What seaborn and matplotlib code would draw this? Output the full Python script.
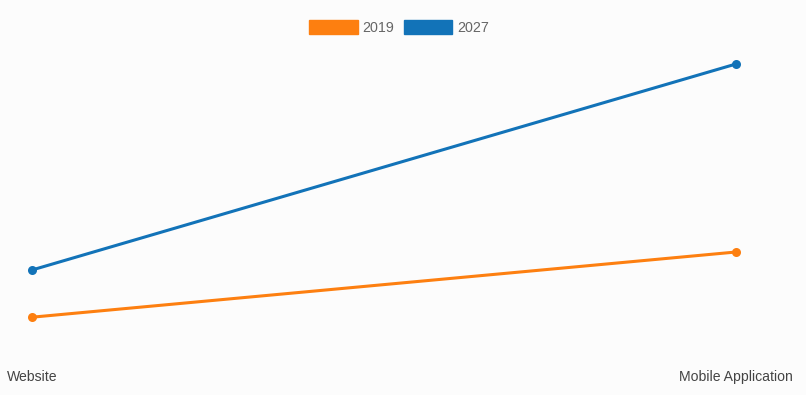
import matplotlib
matplotlib.use("Agg")
import matplotlib.pyplot as plt
import seaborn as sns
import pandas as pd
from matplotlib.patches import Patch

categories = ["Website", "Mobile Application"]
years = ["2019", "2027"]
values_2019 = [10.7, 27.0]
values_2027 = [22.5, 74.0]
colors = {"2019": "#fd7f10", "2027": "#1273b8"}

df = pd.DataFrame({
    "channel": categories * 2,
    "year": [years[0]] * 2 + [years[1]] * 2,
    "value": values_2019 + values_2027,
})

sns.set_theme(style="white")
plt.rcParams["font.family"] = ["Liberation Sans", "DejaVu Sans"]

W, H = 806, 395
fig = plt.figure(figsize=(W / 100, H / 100), dpi=100)
fig.patch.set_facecolor("#fcfcfc")
ax = fig.add_axes([32 / W, (H - 360) / H, (736 - 32) / W, (360 - 40) / H])
ax.set_facecolor("#fcfcfc")

sns.lineplot(data=df, x="channel", y="value", hue="year", palette=colors,
             marker="o", markersize=6.5, markeredgewidth=0, linewidth=2.2,
             ax=ax, legend=False, sort=False)

ax.set_xlim(0, 1)
ax.set_ylim(0, 80)
ax.set_yticks([])
ax.set_xlabel("")
ax.set_ylabel("")
for s in ax.spines.values():
    s.set_visible(False)
ax.tick_params(axis="x", length=0, pad=7.5, labelsize=10.1, labelcolor="#444444")
for p in ax.collections + ax.lines:
    p.set_clip_on(False)

handles = [Patch(facecolor=colors[y], edgecolor=colors[y], label=y) for y in years]
leg = fig.legend(handles=handles, loc="upper center", bbox_to_anchor=(399 / W, 1 - 7 / H),
                 ncol=2, frameon=False, fontsize=10.3, handlelength=3.4, handleheight=1.15,
                 handletextpad=0.35, columnspacing=0.65, labelcolor="#666666")

fig.savefig("out.png", dpi=100, facecolor=fig.get_facecolor())
